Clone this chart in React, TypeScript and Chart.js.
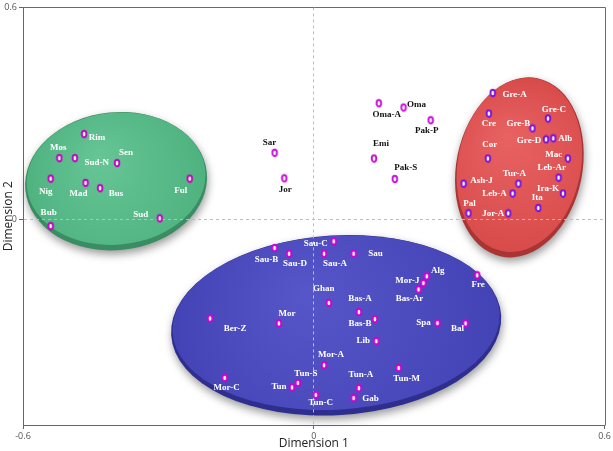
import React, { useEffect, useRef } from 'react';
import { Chart, registerables } from 'chart.js';

Chart.register(...registerables);

// ---- Data ----
const greenNames = ['Rim', 'Mos', 'Sud-N', 'Sen', 'Nig', 'Mad', 'Bus', 'Ful', 'Sud', 'Bub'];
const greenX = [-0.474, -0.525, -0.493, -0.406, -0.543, -0.471, -0.441, -0.256, -0.318, -0.543];
const greenY = [0.242, 0.174, 0.174, 0.160, 0.116, 0.104, 0.089, 0.116, 0.004, -0.018];

const midNames = ['Oma-A', 'Oma', 'Pak-P', 'Emi', 'Pak-S', 'Sar', 'Jor'];
const midX = [0.134, 0.185, 0.241, 0.124, 0.167, -0.081, -0.061];
const midY = [0.329, 0.317, 0.281, 0.173, 0.115, 0.189, 0.117];

const redNames = ['Gre-A', 'Cre', 'Gre-C', 'Gre-B', 'Gre-D', 'Alb', 'Cor', 'Mac', 'Leb-Ar', 'Tur-A', 'Ash-J', 'Leb-A', 'Ira-K', 'Ita', 'Pal', 'Jor-A'];
const redX = [0.369, 0.361, 0.483, 0.451, 0.479, 0.494, 0.359, 0.524, 0.505, 0.422, 0.309, 0.410, 0.514, 0.463, 0.319, 0.401];
const redY = [0.358, 0.300, 0.286, 0.258, 0.227, 0.230, 0.173, 0.173, 0.119, 0.102, 0.102, 0.074, 0.074, 0.033, 0.018, 0.018];

const blueNames = ['Sau-C', 'Sau-B', 'Sau-D', 'Sau-A', 'Sau', 'Ghan', 'Bas-A', 'Bas-B', 'Mor', 'Ber-Z', 'Lib', 'Mor-A', 'Tun-M', 'Mor-C', 'Tun-S', 'Tun', 'Tun-A', 'Tun-C', 'Gab', 'Alg', 'Mor-J', 'Bas-Ar', 'Fre', 'Spa', 'Bal'];
const blueX = [0.041, -0.081, -0.051, 0.021, 0.082, 0.031, 0.093, 0.126, -0.072, -0.214, 0.129, 0.021, 0.175, -0.184, -0.033, -0.045, 0.093, 0.004, 0.082, 0.233, 0.226, 0.216, 0.337, 0.255, 0.313];
const blueY = [-0.061, -0.080, -0.096, -0.096, -0.096, -0.235, -0.261, -0.281, -0.293, -0.279, -0.343, -0.411, -0.419, -0.447, -0.461, -0.474, -0.476, -0.495, -0.504, -0.160, -0.179, -0.197, -0.157, -0.292, -0.293];

const xTickValues = [-0.6, 0, 0.6];
const yTickValues = [0, 0.6];
const xAxisTitle = 'Dimension 1';
const yAxisTitle = 'Dimension 2';

// ---- Label placement relative to each point (pixels) ----
const greenLabelOffsets = [[13, 4], [-1, -10], [22, 5], [9, -10], [-5, 13], [-7, 11], [16, 5], [-9, 12], [-19, -4], [-2, -13]];
const midLabelOffsets = [[8, 11], [13, -3], [-4, 10], [7, -15], [11, -11], [-5, -10], [1, 11]];
const redLabelOffsets = [[22, 2], [0, 10], [6, -9], [-14, -5], [-17, 1], [12, 0], [2, -14], [-14, -4], [-7, -10], [-4, -10], [18, -3], [-18, 0], [-15, -5], [-1, -10], [1, -10], [-15, 0]];
const blueLabelOffsets = [[-18, 2], [-8, 12], [6, 10], [11, 10], [22, 0], [-5, -14], [1, -13], [-15, 4], [8, -10], [25, 10], [-13, 0], [7, -11], [8, 11], [2, 10], [8, -9], [-13, -1], [2, -14], [5, 8], [17, 1], [11, -6], [-16, -2], [-9, 9], [1, 9], [-14, 0], [-8, 5]];

// ---- Cluster ellipses (data units) ----
const clusterShapes = [
  { cx: -0.408, cy: 0.109, rx: 0.188, ry: 0.195, rot: -0.1, light: '#66c595', base: '#4eb27f', rim: '#3a8c62' },
  { cx: 0.424, cy: 0.148, rx: 0.130, ry: 0.257, rot: 0.2, light: '#e86262', base: '#d84a4a', rim: '#a93434' },
  { cx: 0.046, cy: -0.298, rx: 0.341, ry: 0.254, rot: -0.06, light: '#5656c8', base: '#4343b6', rim: '#2e2e8e' },
];

function makeMarker(color: string): HTMLCanvasElement {
  const c = document.createElement('canvas');
  c.width = 8;
  c.height = 10;
  const g = c.getContext('2d')!;
  g.beginPath();
  g.ellipse(4, 5, 2.3, 3.2, 0, 0, Math.PI * 2);
  g.fillStyle = '#ffffff';
  g.fill();
  g.lineWidth = 1.9;
  g.strokeStyle = color;
  g.stroke();
  return c;
}

const ellipsePlugin = {
  id: 'clusterEllipses',
  beforeDraw(chart: any) {
    const { ctx, scales } = chart;
    const xs = scales.x;
    const ys = scales.y;
    clusterShapes.forEach((s) => {
      const px = xs.getPixelForValue(s.cx);
      const py = ys.getPixelForValue(s.cy);
      const rxp = Math.abs(xs.getPixelForValue(s.cx + s.rx) - px);
      const ryp = Math.abs(ys.getPixelForValue(s.cy + s.ry) - py);
      ctx.save();
      // shadow + rim
      ctx.shadowColor = 'rgba(0,0,0,0.40)';
      ctx.shadowBlur = 9;
      ctx.shadowOffsetX = 1;
      ctx.shadowOffsetY = 4;
      ctx.beginPath();
      ctx.ellipse(px, py, rxp, ryp, s.rot, 0, Math.PI * 2);
      ctx.fillStyle = s.rim;
      ctx.fill();
      ctx.restore();
      // top surface
      ctx.save();
      const grad = ctx.createRadialGradient(px - rxp * 0.2, py - ryp * 0.35, 2, px, py, Math.max(rxp, ryp));
      grad.addColorStop(0, s.light);
      grad.addColorStop(1, s.base);
      ctx.beginPath();
      ctx.ellipse(px, py - 2.5, rxp - 1.5, ryp - 3, s.rot, 0, Math.PI * 2);
      ctx.fillStyle = grad;
      ctx.fill();
      ctx.restore();
    });
  },
};

const frameGroups = [
  { names: greenNames, offsets: greenLabelOffsets, color: '#ffffff' },
  { names: midNames, offsets: midLabelOffsets, color: '#111111' },
  { names: redNames, offsets: redLabelOffsets, color: '#ffffff' },
  { names: blueNames, offsets: blueLabelOffsets, color: '#ffffff' },
];

const labelPlugin = {
  id: 'pointLabels',
  afterDatasetsDraw(chart: any) {
    const ctx = chart.ctx;
    frameGroups.forEach((g, di) => {
      const meta = chart.getDatasetMeta(di);
      ctx.save();
      ctx.font = 'bold 9px "Liberation Serif", "Times New Roman", serif';
      ctx.fillStyle = g.color;
      ctx.textAlign = 'center';
      ctx.textBaseline = 'middle';
      meta.data.forEach((el: any, i: number) => {
        const [dx, dy] = g.offsets[i];
        ctx.fillText(g.names[i], el.x + dx, el.y + dy);
      });
      ctx.restore();
    });
  },
};

const framePlugin = {
  id: 'frameBox',
  afterDraw(chart: any) {
    const { ctx, chartArea } = chart;
    ctx.save();
    ctx.strokeStyle = '#6a6a6a';
    ctx.lineWidth = 1;
    ctx.beginPath();
    ctx.moveTo(Math.round(chartArea.left) + 0.5, Math.round(chartArea.top) + 0.5);
    ctx.lineTo(Math.round(chartArea.right) + 0.5, Math.round(chartArea.top) + 0.5);
    ctx.lineTo(Math.round(chartArea.right) + 0.5, Math.round(chartArea.bottom) + 0.5);
    ctx.stroke();
    ctx.restore();
  },
};

function toPoints(xs: number[], ys: number[]) {
  return xs.map((x, i) => ({ x, y: ys[i] }));
}

export default function App() {
  const ref = useRef<HTMLCanvasElement>(null);

  useEffect(() => {
    document.body.style.margin = '0';
    const canvas = ref.current!;
    const gridColor = (c: any) => (c.tick && c.tick.value === 0 ? '#bdbdbd' : 'rgba(0,0,0,0)');
    const chart = new Chart(canvas, {
      type: 'scatter',
      data: {
        datasets: [
          { label: 'green', data: toPoints(greenX, greenY), pointStyle: makeMarker('#c400c4') as any },
          { label: 'mid', data: toPoints(midX, midY), pointStyle: makeMarker('#c810d8') as any },
          { label: 'red', data: toPoints(redX, redY), pointStyle: makeMarker('#7c10e0') as any },
          { label: 'blue', data: toPoints(blueX, blueY), pointStyle: makeMarker('#d000d0') as any },
        ],
      },
      options: {
        responsive: false,
        animation: false,
        events: [],
        layout: { padding: { top: 7, right: 6, left: 0, bottom: 0 } },
        plugins: { legend: { display: false }, tooltip: { enabled: false } },
        scales: {
          x: {
            type: 'linear',
            min: -0.6,
            max: 0.6,
            afterBuildTicks: (s: any) => {
              s.ticks = xTickValues.map((v) => ({ value: v }));
            },
            afterFit: (s: any) => {
              s.height = 26;
            },
            ticks: {
              callback: (v: any) => String(v),
              color: '#555',
              font: { family: '"Open Sans", "DejaVu Sans", sans-serif', size: 9 },
              padding: 2,
              maxRotation: 0,
            },
            grid: { color: gridColor, tickColor: '#666', tickLength: 4, lineWidth: 1 },
            border: { display: true, color: '#666', dash: [3, 3] },
            title: {
              display: true,
              text: xAxisTitle,
              color: '#222',
              font: { family: '"Open Sans", "DejaVu Sans", sans-serif', size: 12 },
              padding: { top: 0, bottom: 0 },
            },
          },
          y: {
            type: 'linear',
            min: -0.58,
            max: 0.6,
            afterBuildTicks: (s: any) => {
              s.ticks = yTickValues.map((v) => ({ value: v }));
            },
            afterFit: (s: any) => {
              s.width = 23;
            },
            ticks: {
              callback: (v: any) => String(v),
              color: '#555',
              font: { family: '"Open Sans", "DejaVu Sans", sans-serif', size: 9 },
              padding: 2,
            },
            grid: { color: gridColor, tickColor: '#666', tickLength: 4, lineWidth: 1 },
            border: { display: true, color: '#666', dash: [3, 3] },
            title: {
              display: true,
              text: yAxisTitle,
              color: '#222',
              font: { family: '"Open Sans", "DejaVu Sans", sans-serif', size: 12 },
              padding: { top: 1, bottom: 0 },
            },
          },
        },
      },
      plugins: [ellipsePlugin, labelPlugin, framePlugin],
    });
    return () => chart.destroy();
  }, []);

  return (
    <div style={{ width: 613, height: 451, position: 'relative' }}>
      <canvas ref={ref} width={613} height={451} style={{ display: 'block' }} />
    </div>
  );
}
